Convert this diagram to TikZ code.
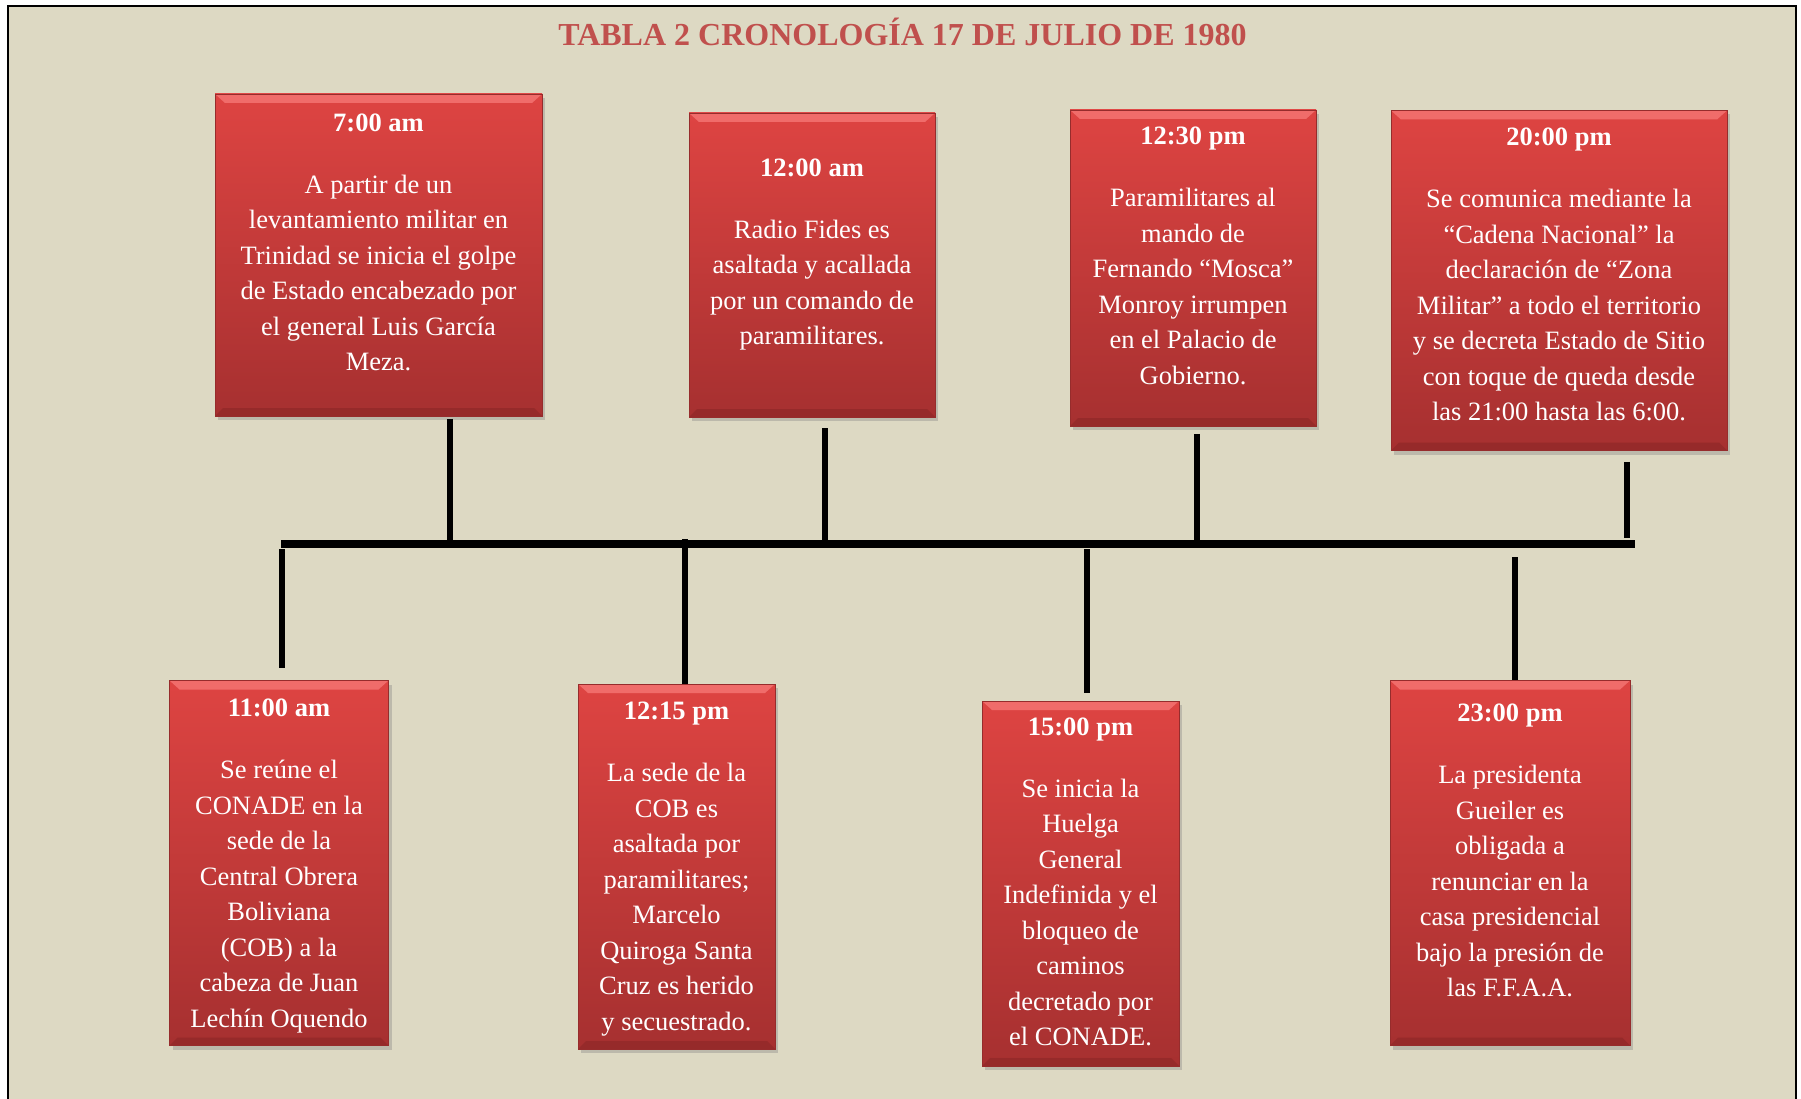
\documentclass[tikz,border=0pt]{standalone}
\usepackage{fontspec}
\setmainfont{Liberation Serif}
\usepackage{tikz}
\usetikzlibrary{positioning,shadows}
\definecolor{fondo}{RGB}{221,217,195}
\definecolor{rojotit}{RGB}{192,80,77}
\definecolor{rojoA}{RGB}{222,68,66}
\definecolor{rojoB}{RGB}{166,48,48}
\definecolor{rojoclaro}{RGB}{240,108,106}
\definecolor{rojoosc}{RGB}{140,38,38}
\definecolor{borde}{RGB}{150,44,44}
\newcommand{\hora}[1]{\textbf{#1}\\[26.5pt]}

\begin{document}
\begin{tikzpicture}[x=1pt, y=-1pt]
  \tikzset{
    evento/.style={rectangle, inner sep=0pt, top color=rojoA, bottom color=rojoB,
      draw=borde, line width=0.8pt,
      drop shadow={shadow xshift=3pt, shadow yshift=-4pt, opacity=0.35},
      path picture={
        \fill[rojoclaro] (path picture bounding box.north west) -- (path picture bounding box.north east)
          -- ([xshift=-10pt,yshift=-9pt]path picture bounding box.north east)
          -- ([xshift=10pt,yshift=-9pt]path picture bounding box.north west) -- cycle;
        \fill[rojoosc, opacity=0.6] (path picture bounding box.south west) -- (path picture bounding box.south east)
          -- ([xshift=-8pt,yshift=8pt]path picture bounding box.south east)
          -- ([xshift=8pt,yshift=8pt]path picture bounding box.south west) -- cycle;
      }},
    texto/.style={inner sep=0pt, align=center, text=white, font=\fontsize{26.5}{35.5}\selectfont},
    tallo/.style={line width=6pt},
    eje/.style={line width=8pt}
  }
  \useasboundingbox (0,0) rectangle (1801,1099);
  \fill[white] (0,0) rectangle (1801,1099);
  \fill[fondo] (8,6) rectangle (1796,1099);
  \draw[line width=2.5pt] (8,1099) -- (8,6) -- (1796,6) -- (1796,1099);

  \node[font=\bfseries\fontsize{32}{38}\selectfont, text=rojotit, anchor=base] (titulo) at (902.5,46)
    {TABLA 2 CRONOLOGÍA 17 DE JULIO DE 1980};

  \node[evento, minimum width=327pt, minimum height=322pt] (ev-1) at (378.5,255) {};
  \node[evento, minimum width=246pt, minimum height=304pt] (ev-2) at (812,265) {};
  \node[evento, minimum width=246pt, minimum height=316pt] (ev-3) at (1193,268) {};
  \node[evento, minimum width=336pt, minimum height=340pt] (ev-4) at (1559,280.5) {};
  \node[evento, minimum width=219pt, minimum height=365pt] (ev-5) at (279,863) {};
  \node[evento, minimum width=197pt, minimum height=365pt] (ev-6) at (676.5,866.5) {};
  \node[evento, minimum width=197pt, minimum height=365pt] (ev-7) at (1080.5,883.5) {};
  \node[evento, minimum width=240pt, minimum height=365pt] (ev-8) at (1510,863) {};

  \node[texto, below=19.8pt of ev-1.north] (tx-1) {\hora{7:00 am}A partir de un\\levantamiento militar en\\
    Trinidad se inicia el golpe\\de Estado encabezado por\\el general Luis García\\Meza.};
  \node[texto, below=45.8pt of ev-2.north] (tx-2) {\hora{12:00 am}Radio Fides es\\asaltada y acallada\\
    por un comando de\\paramilitares.};
  \node[texto, below=17.2pt of ev-3.north] (tx-3) {\hora{12:30 pm}Paramilitares al\\mando de\\
    Fernando “Mosca”\\Monroy irrumpen\\en el Palacio de\\Gobierno.};
  \node[texto, below=17.7pt of ev-4.north] (tx-4) {\hora{20:00 pm}Se comunica mediante la\\“Cadena Nacional” la\\
    declaración de “Zona\\Militar” a todo el territorio\\y se decreta Estado de Sitio\\con toque de queda desde\\
    las 21:00 hasta las 6:00.};
  \node[texto, below=19pt of ev-5.north] (tx-5) {\hora{11:00 am}Se reúne el\\CONADE en la\\sede de la\\
    Central Obrera\\Boliviana\\(COB) a la\\cabeza de Juan\\Lechín Oquendo};
  \node[texto, below=18.5pt of ev-6.north] (tx-6) {\hora{12:15 pm}La sede de la\\COB es\\asaltada por\\
    paramilitares;\\Marcelo\\Quiroga Santa\\Cruz es herido\\y secuestrado.};
  \node[texto, below=17pt of ev-7.north] (tx-7) {\hora{15:00 pm}Se inicia la\\Huelga\\General\\
    Indefinida y el\\bloqueo de\\caminos\\decretado por\\el CONADE.};
  \node[texto, below=24pt of ev-8.north] (tx-8) {\hora{23:00 pm}La presidenta\\Gueiler es\\obligada a\\
    renunciar en la\\casa presidencial\\bajo la presión de\\las F.F.A.A.};

  \coordinate (eje-i) at (281,544);
  \coordinate (eje-d) at (1635,544);
  \draw[eje] (eje-i) -- (eje-d);

  \coordinate (p-1) at (450,540);
  \coordinate (p-2) at (825,546);
  \coordinate (p-3) at (1197,540);
  \coordinate (p-4) at (1627,538);
  \coordinate (p-5) at (282,549);
  \coordinate (p-6) at (685,539);
  \coordinate (p-7) at (1087,549);
  \coordinate (p-8) at (1515,557);

  \draw[tallo, shorten <=2.5pt] (ev-1.south -| p-1) -- (p-1);
  \draw[tallo, shorten <=11pt] (ev-2.south -| p-2) -- (p-2);
  \draw[tallo, shorten <=7.5pt] (ev-3.south -| p-3) -- (p-3);
  \draw[tallo, shorten <=11pt] (ev-4.south -| p-4) -- (p-4);
  \draw[tallo, shorten >=12.5pt] (p-5) -- (ev-5.north -| p-5);
  \draw[tallo] (p-6) -- (ev-6.north -| p-6);
  \draw[tallo, shorten >=8pt] (p-7) -- (ev-7.north -| p-7);
  \draw[tallo] (p-8) -- (ev-8.north -| p-8);
\end{tikzpicture}
\end{document}
